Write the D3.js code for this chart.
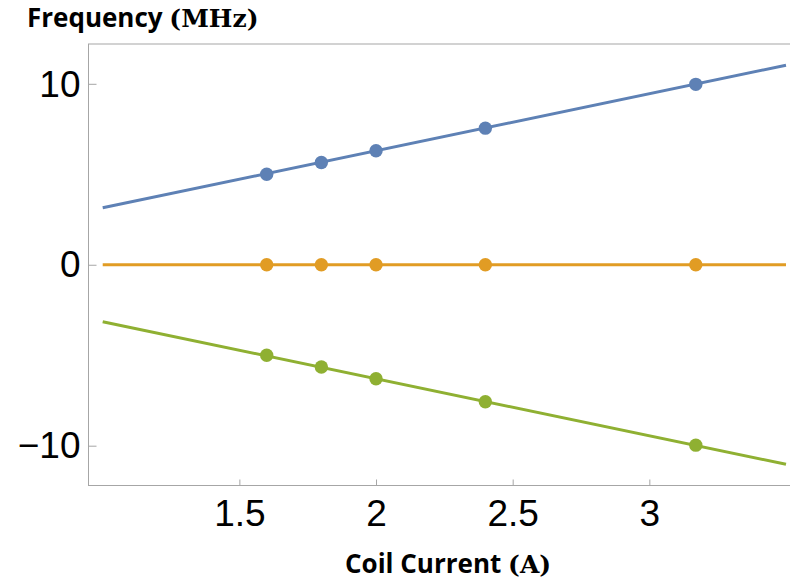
<!DOCTYPE html>
<html>
<head>
<meta charset="utf-8">
<script src="https://cdn.jsdelivr.net/npm/d3@7"></script>
<style>
  html, body { margin: 0; padding: 0; background: #fff; }
  svg { display: block; }
</style>
</head>
<body>
<svg id="chart" width="790" height="584"></svg>
<script>
// Measured coil currents (A)
const current = [1.6, 1.8, 2.0, 2.4, 3.17];
// Measured frequency shifts (MHz) for the three lines
const upper = [5.0, 5.65, 6.3, 7.55, 9.97];
const middle = [0, 0, 0, 0, 0];
const lower = [-5.0, -5.65, -6.3, -7.57, -9.97];
// Linear fit end points
const fitCurrent = [1.0, 3.5];
const fitUpper = [3.15, 11.03];
const fitMiddle = [0, 0];
const fitLower = [-3.15, -11.03];
// Axis ticks
const xTicks = [1.5, 2, 2.5, 3];
const yTicks = [-10, 0, 10];

const colors = ["#5E81B5", "#E19C24", "#8FB032"];
const seriesPts = [upper, middle, lower];
const seriesFit = [fitUpper, fitMiddle, fitLower];

const svg = d3.select("#chart");
const frame = { left: 88.5, right: 789, top: 44, bottom: 485.5 };

const x = d3.scaleLinear().domain([0.948, 3.511]).range([frame.left, frame.right]);
const y = d3.scaleLinear().domain([-12.2, 12.2]).range([frame.bottom, frame.top]);

// Frame
svg.append("rect")
  .attr("x", frame.left).attr("y", frame.top)
  .attr("width", frame.right - frame.left + 2).attr("height", frame.bottom - frame.top)
  .attr("fill", "none").attr("stroke", "#a6a6a6").attr("stroke-width", 1);

// Bottom axis (inward ticks)
const xAxis = svg.append("g")
  .attr("transform", `translate(0,${frame.bottom})`)
  .call(d3.axisBottom(x).tickValues(xTicks).tickSize(-6).tickPadding(14)
    .tickFormat(d => d3.format("")(d)));
xAxis.select(".domain").remove();
xAxis.selectAll("line").attr("stroke", "#a6a6a6");
xAxis.selectAll("text")
  .attr("font-family", "Liberation Sans, Arial, sans-serif")
  .attr("font-size", 37).attr("fill", "#000")
  .attr("dy", "0.71em").attr("y", 14);

// Left axis (inward ticks)
const yAxis = svg.append("g")
  .attr("transform", `translate(${frame.left},0)`)
  .call(d3.axisLeft(y).tickValues(yTicks).tickSize(-8).tickPadding(9)
    .tickFormat(d => d < 0 ? "\u2212" + Math.abs(d) : String(d)));
yAxis.select(".domain").remove();
yAxis.selectAll("line").attr("stroke", "#a6a6a6");
yAxis.selectAll("text")
  .attr("font-family", "Liberation Sans, Arial, sans-serif")
  .attr("font-size", 37).attr("fill", "#000")
  .attr("x", -8).attr("dy", "0.33em");

// Fit lines
const line = d3.line().x((d, i) => x(fitCurrent[i])).y(d => y(d));
seriesFit.forEach((s, k) => {
  svg.append("path").datum(s)
    .attr("d", line)
    .attr("fill", "none")
    .attr("stroke", colors[k])
    .attr("stroke-width", 3);
});

// Data points
seriesPts.forEach((s, k) => {
  svg.append("g").selectAll("circle").data(s).join("circle")
    .attr("cx", (d, i) => x(current[i]))
    .attr("cy", d => y(d))
    .attr("r", 6.7)
    .attr("fill", colors[k]);
});

// Axis titles
const yTitle = svg.append("text").attr("x", 27).attr("y", 27)
  .attr("fill", "#000");
yTitle.append("tspan").text("Frequency ")
  .attr("font-family", "Open Sans, sans-serif").attr("font-weight", "bold").attr("font-size", 26);
yTitle.append("tspan").text("(MHz)")
  .attr("font-family", "DejaVu Serif, serif").attr("font-weight", "bold").attr("font-size", 25);

const xTitle = svg.append("text").attr("x", 345).attr("y", 573)
  .attr("fill", "#000");
xTitle.append("tspan").text("Coil Current ")
  .attr("font-family", "Open Sans, sans-serif").attr("font-weight", "bold").attr("font-size", 26);
xTitle.append("tspan").text("(A)")
  .attr("font-family", "DejaVu Serif, serif").attr("font-weight", "bold").attr("font-size", 25);
</script>
</body>
</html>
